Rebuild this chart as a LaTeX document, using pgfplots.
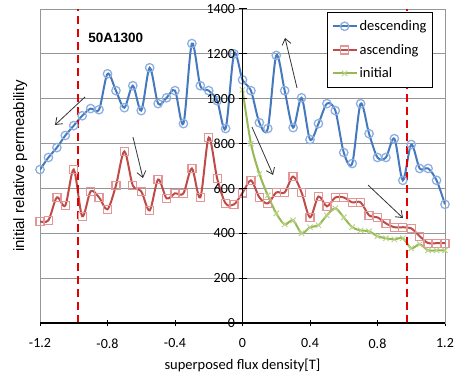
\documentclass[border=0pt]{standalone}
\usepackage{fontspec}
\setmainfont{Carlito}
\newfontfamily\arialf{Liberation Sans}
\usepackage{pgfplots}
\pgfplotsset{compat=1.18}
\usetikzlibrary{arrows.meta}
\definecolor{dblue}{RGB}{70,120,190}
\definecolor{lblue}{RGB}{140,175,225}
\definecolor{dred}{RGB}{190,75,72}
\definecolor{lred}{RGB}{228,150,150}
\definecolor{dgreen}{RGB}{150,185,85}
\definecolor{lgreen}{RGB}{185,212,135}
\definecolor{gridgray}{RGB}{150,150,150}

\pgfplotstableread{
x y
-1.20 684
-1.15 738
-1.10 782
-1.05 836
-1.00 880
-0.95 924
-0.90 956
-0.85 951
-0.80 1111
-0.75 1036
-0.70 960
-0.65 1058
-0.60 947
-0.55 1138
-0.50 978
-0.45 1004
-0.40 1036
-0.35 889
-0.30 1246
-0.25 1058
-0.20 1036
-0.15 991
-0.10 867
-0.05 1200
0.00 1084
0.05 1036
0.10 893
0.15 867
0.20 1193
0.25 1036
0.30 871
0.35 1004
0.40 818
0.45 889
0.50 978
0.55 947
0.60 760
0.65 711
0.70 978
0.75 844
0.80 738
0.85 738
0.90 822
0.95 636
1.00 796
1.05 689
1.10 689
1.15 636
1.20 529
}\desc

\pgfplotstableread{
x y
-1.20 453
-1.15 458
-1.10 560
-1.05 524
-1.00 684
-0.95 476
-0.90 587
-0.85 560
-0.80 507
-0.75 613
-0.70 765
-0.65 613
-0.60 587
-0.55 502
-0.50 640
-0.45 556
-0.40 578
-0.35 578
-0.30 689
-0.25 560
-0.20 827
-0.15 644
-0.10 533
-0.05 529
0.00 580
0.05 636
0.10 560
0.15 533
0.20 582
0.25 582
0.30 653
0.35 582
0.40 471
0.45 564
0.50 520
0.55 560
0.60 560
0.65 538
0.70 538
0.75 480
0.80 471
0.85 444
0.90 427
0.95 427
1.00 422
1.05 387
1.10 356
1.15 356
1.20 356
}\asc

\pgfplotstableread{
x y
0.00 1040
0.05 800
0.10 665
0.15 569
0.20 489
0.25 440
0.30 458
0.35 400
0.40 427
0.45 436
0.50 480
0.55 511
0.60 471
0.65 427
0.70 413
0.75 409
0.80 387
0.85 378
0.90 373
0.95 378
1.00 333
1.05 351
1.10 324
1.15 324
1.20 324
}\init

\begin{document}
\begin{tikzpicture}
\begin{axis}[name=main, at={(0,0)}, anchor=south west, scale only axis,
  width=405bp, height=314bp,
  xmin=-1.2, xmax=1.2, ymin=0, ymax=1400,
  axis line style={draw=gridgray, line width=0.8bp},
  xtick={-1.2,-0.8,-0.4,0,0.4,0.8,1.2},
  xticklabels={-1.2,-0.8,-0.4,0,0.4,0.8,1.2},
  xtick pos=bottom, tick align=center, major tick length=6bp,
  xtick style={black, line width=0.8bp},
  ytick={200,400,600,800,1000,1200}, yticklabels={}, ytick style={draw=none},
  ymajorgrids, grid style={gridgray, line width=0.9bp},
  /pgf/number format/assume math mode=true,
  xticklabel style={font=\fontsize{14bp}{16bp}\selectfont, yshift=-9bp},
  xlabel={superposed flux density[T]},
  xlabel style={font=\fontsize{14.5bp}{17bp}\selectfont, at={(axis description cs:0.5,-0.135)}, anchor=center},
  ylabel={initial relative permeability},
  ylabel style={font=\arialf\fontsize{15bp}{17bp}\selectfont, at={(axis description cs:-0.049,0.5)}, anchor=center},
  legend cell align=left,
  legend style={at={(0.97,0.99)}, anchor=north east, draw=black, line width=0.8bp,
    font=\fontsize{14.5bp}{16bp}\selectfont, row sep=8bp, inner xsep=4bp, inner ysep=6bp},
  legend image code/.code={\draw[mark repeat=2, mark phase=2] plot coordinates {(0bp,0bp) (12bp,0bp) (24bp,0bp)};},
]
\addplot[dblue, line width=2bp, smooth, tension=0.5, mark=o, mark size=4.2bp, mark options={lblue, line width=1.3bp, solid}] table[x=x,y=y] {\desc};
\addlegendentry{descending}
\addplot[dred, line width=2bp, smooth, tension=0.5, mark=square, mark size=4bp, mark options={lred, line width=1.3bp, solid}] table[x=x,y=y] {\asc};
\addlegendentry{ascending}
\addplot[dgreen, line width=2bp, smooth, tension=0.5, mark=x, mark size=3.8bp, mark options={lgreen, line width=1bp, solid}] table[x=x,y=y] {\init};
\addlegendentry{initial}
\draw[red!90!black, line width=2bp, dash pattern=on 8bp off 5bp] (axis cs:-0.975,0) -- (axis cs:-0.975,1400);
\draw[red!90!black, line width=2bp, dash pattern=on 8bp off 5bp] (axis cs:0.975,0) -- (axis cs:0.975,1400);
\draw[-{Straight Barb[length=6bp,width=9bp]}, black!80, line width=0.8bp] (axis cs:-0.933,1008) -- (axis cs:-1.111,883);
\draw[-{Straight Barb[length=6bp,width=9bp]}, black!80, line width=0.8bp] (axis cs:-0.649,829) -- (axis cs:-0.590,646);
\draw[-{Straight Barb[length=6bp,width=9bp]}, black!80, line width=0.8bp] (axis cs:0.323,1048) -- (axis cs:0.252,1271);
\draw[-{Straight Barb[length=6bp,width=9bp]}, black!80, line width=0.8bp] (axis cs:0.056,874) -- (axis cs:0.181,660);
\draw[-{Straight Barb[length=6bp,width=9bp]}, black!80, line width=0.8bp] (axis cs:0.744,615) -- (axis cs:0.951,468);
\node[anchor=west, font=\arialf\bfseries\fontsize{13.5bp}{16bp}\selectfont] at (axis cs:-0.934,1271) {50A1300};
\draw[black, line width=1.5bp] (rel axis cs:0,0) -- (rel axis cs:1,0);
\end{axis}
\begin{axis}[at={(0,0)}, anchor=south west, scale only axis,
  width=405bp, height=314bp,
  xmin=-1.2, xmax=1.2, ymin=0, ymax=1400,
  axis x line=none, axis y line=middle,
  axis line style={-, black, line width=1.5bp},
  ytick={0,200,400,600,800,1000,1200,1400},
  yticklabels={0,200,400,600,800,1000,1200,1400},
  tick align=center, major tick length=8bp,
  ytick style={black, line width=1bp},
  hide obscured y ticks=false,
  /pgf/number format/assume math mode=true,
  yticklabel style={font=\fontsize{14bp}{16bp}\selectfont},
  xtick=\empty,
]
\end{axis}
\pgfresetboundingbox
\path[use as bounding box] ([shift={(-40bp,-54bp)}]main.south west) rectangle ([shift={(16bp,9bp)}]main.north east);
\end{tikzpicture}
\end{document}
